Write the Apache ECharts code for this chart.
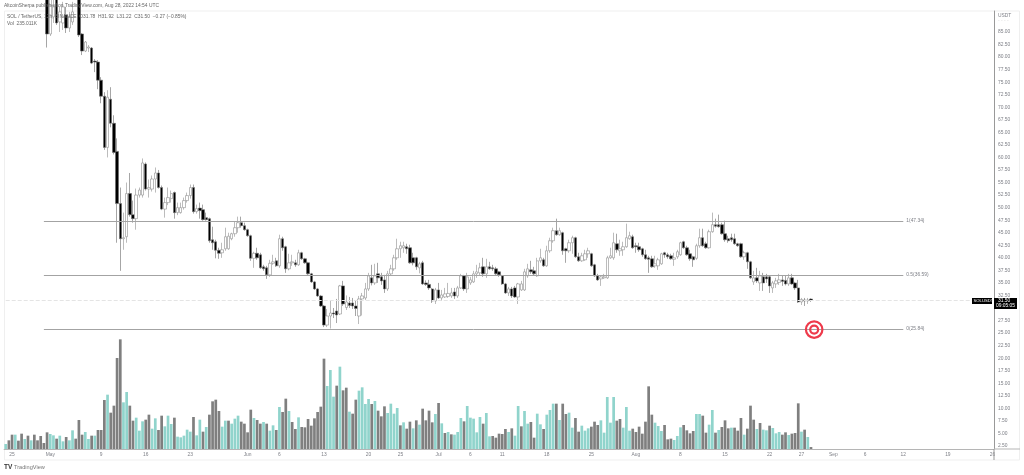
<!DOCTYPE html>
<html>
<head>
<meta charset="utf-8">
<style>html,body{margin:0;padding:0;background:#fff}#c{width:1024px;height:475px;filter:blur(0.35px)}</style>
<script src="https://cdn.jsdelivr.net/npm/echarts@6/dist/echarts.min.js"></script>
</head>
<body>
<div id="c"></div>
<script>
// [open, close, low, high] for each 12h candle, starting 24 Apr 2022
const candles = [
[97,98,96,99],[98,100,97,101],[100,99,98,102],[99,101,98,102],[101,103,100,104],[103,100,99,104],[100,98,97,101],[98,99,96,100],[99,97,96,100],[97,96,94,98],[96,95,93,97],[95,94,92,96],[94,92,91,95],
[92,84.6,81.9,95],[84.6,92,84.2,94],[88,90,86.8,93],[92,86.8,86.4,94],[87,89,85,90],[86.8,90,85.4,91],[88.4,85.8,84.8,90],[85.8,88,85,89],[87,89,86.4,91],[91,96,90,97],[95,84.4,84,96],
[84.6,81.2,80.4,84.8],[81.2,83,81,83.2],[81.8,82,81,82.4],[81.8,78.8,78.6,82],[79.2,79,77,79.6],[79,75.4,73.6,79.4],[75.4,72.2,70.8,76],[72.2,62,61.5,73],[62,72,60,73.4],[71.6,66.8,66,74],[66.8,61,60.6,68.4],
[61.2,50.8,43,63.8],[50.8,43.8,37.4,54],[43.8,44,41.6,49],[44.2,52.8,43,55],[52.8,48.6,48.2,56.9],[48.6,47.8,47,51.4],[47.8,52.5,45.6,53.8],[52.5,53.5,52,54],[52.5,58.9,52,59.8],[58.7,53.7,53.4,59],
[53.7,54,52,55.6],[53.7,55.7,53.2,56.4],[55.7,56.9,53,58],[56.9,54,53.8,57.5],[54,49.7,49.5,54.4],[49.7,51,48,52],[51,52,50.5,54],[51.8,52.8,51,53.4],[53,49,47.8,53.2],[49,50,48.5,51],[49,50,48.8,51],
[50,51.4,49.6,52],[51.4,52.4,51,53],[52.4,54,51.8,54.6],[54,49.2,48.8,54.6],[49.2,49.8,48.8,50.6],[49.9,49.4,47.8,51],[49.6,47.6,47.4,50.6],[48,47.6,47.4,49],[47.8,43.4,43,48],[43.6,43,41.6,46.2],
[43.2,41.5,39.9,43.6],[41.5,40.9,39.8,42],[41,41.6,40,43],[41.8,44.2,41.4,46],[41.8,44.3,41.6,45],[43.8,44.8,43.5,45],[44.8,46,44.2,47.2],[46,47,45,48.2],[47,46.4,46,48.2],[46.4,45.6,45.4,47],
[45.6,44.4,44.2,45.8],[44.4,39.9,39.4,44.6],[39.9,40.9,38,41.2],[40.9,40,39.6,42],[40.6,38,37.8,41],[38.2,37.8,37.4,38.6],[38,36.6,35.8,38.4],[36.6,38.9,36.2,39.6],[38.9,39.2,38.6,40.6],[39.4,38.4,38.2,40],
[38.4,43.8,38,44.6],[43.8,42,41.4,44.2],[42.2,37.8,37,42.4],[37.8,39,37.5,40.8],[39,39.2,38.4,40.6],[39,38.6,38.2,39.6],[38.6,41,38.4,41.6],[41,39.8,39.6,41.2],[39.8,39,38.8,40],[39,36.8,36.6,39.2],
[36.8,35.2,35,37],[35.2,33.8,33.6,35.4],[33.8,32.4,32.2,34],[32.4,30.4,30.2,32.6],[30.4,26.6,26.2,30.6],[26.6,28.4,26.2,29.8],[28.4,29,25.9,31.4],[29,28.8,28,30],[29.4,28.6,27,31.8],[28.8,34.4,28.6,34.6],
[34.4,30.8,30.4,35.4],[30.1,31.2,29.6,32.5],[31,30.5,30,32.2],[31,30.4,29.8,32],[30.4,29.9,28.4,31.4],[28.4,31.8,26.8,32.4],[31.8,32.4,28.5,33],[32,33.8,31.6,35],[33.8,36.4,33.4,37],[36,35,34.5,38.6],
[35,36.4,34.6,38.8],[36.8,36,35,39],[36.2,35.4,34.6,37],[35.6,33.8,33,36.6],[33.8,36.8,33.4,37.4],[36.8,37.8,36.4,38.6],[37.8,40,37.4,40.6],[40,41.8,39.6,43.8],[41.8,42.4,40,43.2],[42,42.4,41,43.2],
[42.2,41.8,40.8,42.8],[42,39,38.8,42.6],[40,39,38.5,41],[40,38.2,37.6,40.2],[38,38.8,36.9,39.2],[39,34.8,34.6,39.4],[35,34.7,34.4,35.5],[34.7,34,33.6,35.6],[33.8,31.4,31,34],[31.4,33.6,30.8,34],
[33.6,32,31.8,35],[32,32.6,31.4,33.6],[32.2,32.8,32,34],[32.3,32.9,32,35],[32.4,33,32,34],[33.2,32.4,31.8,34],[32.4,34,32,34.4],[34,36.4,33.8,36.8],[36.4,33.8,33.4,36.6],[33.8,36.2,33,37],
[35,35.6,34.6,36.2],[35.2,36.8,35,37.4],[36.8,37.2,36,38.6],[37,38,36.4,39],[38.2,36.8,36.2,40],[36.8,38.2,36,39.8],[38.2,37.8,37.6,39.2],[38,37.8,37.4,38.6],[37.8,36.8,36.6,38.2],[37.2,36.6,36.2,37.4],
[36.4,34.8,34.6,36.6],[34.8,33,32.8,35],[33,33.8,32.4,34.2],[33.8,32.4,32,34.2],[34,32.2,32,34.4],[32.2,34.8,30.8,35],[33.6,34.8,33.4,35.4],[33.6,37.2,33.4,37.8],[36.4,37.8,36,38.8],[37.6,37.2,36.8,39.4],
[37.4,36.8,36.4,38.2],[36.4,39.4,36.2,40],[39.4,40,39,41.8],[39.6,38.4,38.2,40],[38.4,41.4,38.2,42.4],[41.4,43.4,41,44],[43.4,45.4,43,46],[45.4,44.6,44.4,47.8],[44.6,45.4,44.4,46],[45,41.4,40.6,45.2],
[41.8,41.4,39,42],[41.4,43,41,43.6],[43,44,40.8,44.4],[44,40.2,40,44.2],[40.2,39.4,39.2,41],[39.4,40.4,39.2,41],[39.6,40.8,39.4,41.6],[40.8,41.4,40,42],[40.8,38.4,38.2,41],[38.6,36.4,36.2,38.8],
[36.4,35.6,35.4,36.8],[35.8,36.2,34.4,36.4],[36,36.2,35.8,36.8],[36,40,35.8,40.4],[40,40.4,39.8,42],[40,43,39.6,45],[42.8,41.6,41,44.8],[41.4,41.8,40.4,43.6],[41.6,42.2,40.4,43.2],[42.2,44,42,46.8],
[43.8,44.4,43.6,45.2],[44.2,42,41.8,44.6],[42.4,42.2,41,43],[42.2,41.6,41.2,43],[41.8,40.6,40.2,42],[40.6,39.8,39.6,41.6],[40,39.7,37,40.4],[39.8,38.2,38,40.4],[38.4,38.8,38,40.4],[38.4,39.6,37.6,40],
[38.8,40.8,38.6,41],[41,40.6,40,41.2],[40.6,40.2,39.8,41],[40.4,39.8,39.6,40.8],[39.7,40,38.4,41],[40.2,41.2,39.8,41.6],[40.6,43,40.4,43.2],[43.2,42,41.8,43.4],[42,40.6,40.4,42.4],[40.8,39.8,39.4,41.6],
[40.2,39.6,38.2,40.4],[39.9,42.4,39.6,42.8],[42.4,44,42,45.8],[44,42.4,42.2,45.8],[42.8,42,41.8,43.2],[42,45.2,41.8,45.6],[45.2,46.6,45,49],[46.6,46.3,46,47.8],[46.6,46.2,46,48.6],[46.6,44.8,44.6,47],
[44.8,43.6,43.2,47.4],[43.8,43.4,43,44.4],[44,43.6,43.2,44.8],[43.8,42.8,42.6,44.8],[42.8,42.4,42.2,43],[42.8,40.2,40,43],[40.2,41,39.6,41.4],[41,39.2,37.8,41.2],[39.2,36,35.8,39.4],[35.2,36,34.6,37.4],
[36,35.4,35,38],[35,36.4,33.4,37.4],[36.2,35,33.4,37],[36.2,35.8,35,36.8],[36.2,34.4,33,36.4],[34,35,33,35.4],[34.8,35.4,34,36],[35.1,35.6,34.6,36.8],[35.6,35.3,34.4,36.4],[35.5,34.8,34.5,36.4],
[34.8,36,34.4,36.8],[36,34.8,34.6,36.8],[35,34,33.6,35.2],[34,31.2,31,35.6],[31.2,31.7,30.6,32],[31.6,31.4,30.4,32],[31.4,31.6,30.8,32],[31.78,31.5,31.22,31.92]
];
// 12h volume in millions of SOL
const volumes = [
0.60,1.04,1.72,1.72,1.00,1.84,1.20,1.60,1.04,1.72,1.04,1.56,0.72,2.00,1.80,1.64,1.24,1.60,0.92,1.44,
1.04,2.24,1.24,3.48,1.72,2.04,1.20,1.60,1.60,2.28,2.28,5.88,6.52,4.36,5.20,10.92,13.16,5.60,6.84,5.20,
3.40,3.76,2.20,3.32,3.52,4.12,2.44,3.68,2.28,4.00,2.72,4.00,3.00,3.76,1.48,1.40,1.60,2.32,2.08,3.84,
1.64,3.52,2.08,2.64,4.12,5.72,5.92,4.56,2.68,3.40,3.40,3.04,3.64,4.00,3.28,3.04,2.00,4.72,3.72,3.48,
3.04,3.24,3.04,2.20,2.84,2.28,5.04,4.44,6.04,4.56,3.24,2.40,3.80,2.64,2.60,3.60,2.80,3.68,4.44,5.08,
10.84,7.56,9.48,6.28,7.60,9.88,7.04,7.36,4.48,4.24,5.92,7.00,7.40,5.40,6.00,5.40,5.76,4.60,3.92,5.12,
4.32,5.44,4.24,4.92,2.84,3.20,2.44,3.28,2.48,3.44,2.92,4.84,3.44,4.60,3.20,4.20,5.52,3.08,1.92,2.04,
1.76,1.72,2.04,3.72,3.32,5.16,3.76,3.64,2.00,3.84,3.04,4.32,1.52,1.56,1.36,1.84,1.80,2.40,2.04,2.48,
1.60,5.16,2.72,4.56,3.04,3.24,1.36,4.24,2.96,2.40,4.12,4.68,5.44,5.44,3.48,5.44,4.20,4.36,2.56,3.72,
2.08,2.80,2.20,2.48,2.68,3.28,2.88,3.44,1.96,6.24,3.16,6.24,3.40,3.60,2.56,5.04,2.20,2.44,2.04,2.68,
1.84,3.28,7.52,4.12,3.16,2.76,2.16,2.88,1.16,1.24,1.08,1.56,2.60,2.88,2.24,1.88,2.16,4.20,4.20,4.00,
1.96,2.92,4.68,1.96,2.28,2.64,3.44,2.48,2.56,2.56,2.20,3.72,1.72,2.44,5.20,3.52,2.40,3.12,2.32,2.24,
2.80,2.52,1.88,2.04,1.72,2.00,1.68,1.84,1.92,5.48,2.08,2.32,1.44,0.235
];
// U = rising bar, D = falling bar, one letter per volume
const volumeDirs = "UDDUDDUDUDDDDDUUDUUDUUDDDUUDUDDDUDDDDUUDDUUUDDUUDDUUUDUUUUUDUUDUDDDDUUDUUUDDDDUDDUDUUDUDDUDDUDDDDDDDDUUUDUDDUDDUUUUDUDDDUUUUDUDDUDUDDDDUDUDUDUUUDUUUUUDUUDDDDDUDUUDUUDDUUDUUUDUDDUUDDUUUDDDUUUUUDDUUUDDDDDDDUUUDDDUUUDDDDUUDDUUDUDDDUDDDUDDDUDUUDUUUDDUDDDUDUD";
const tickDates = ["04-25","05-01","05-09","05-16","05-23","06-01","06-06","06-13","06-20","06-25","07-01","07-06","07-11","07-18","07-25","08-01","08-08","08-15","08-22","08-27","09-01","09-06","09-12","09-19","09-26"];
const tickLabels = ["25","May","9","16","23","Jun","6","13","20","25","Jul","6","11","18","25","Aug","8","15","22","27","Sep","6","12","19","26"];
const priceTicks = [85,82.5,80,77.5,75,72.5,70,67.5,65,62.5,60,57.5,55,52.5,50,47.5,45,42.5,40,37.5,35,32.5,30,27.5,25,22.5,20,17.5,15,12.5,10,7.5,5,2.5];
const fibLevels = [47.34,36.59,25.84];
const fibLabels = ["1(47.34)","0.5(36.59)","0(25.84)"];
const lastPrice = 31.50;
const targetMark = [254,25.7];

const categories = [];
for (let i=0;i<311;i++){
  const d = new Date(Date.UTC(2022,3,24)+i*12*3600*1000);
  categories.push(d.toISOString().slice(5,13).replace('T',' '));
}
const labelOf = {};
tickDates.forEach((d,k)=>{labelOf[d+' 00']=tickLabels[k];});

const FONT = '"Liberation Sans",Arial,sans-serif';
const GRAY = '#7d7f86';
const chart = echarts.init(document.getElementById('c'),null,{renderer:'canvas'});
const txt = (x,y,t,c,extra)=>({type:'text',z:50,silent:true,style:Object.assign({x,y,text:t,fill:c||GRAY,font:'4.9px '+FONT,textVerticalAlign:'middle'},extra||{})});
chart.setOption({
  animation:false,
  backgroundColor:'#fff',
  grid:{left:4.1,top:11,width:989.9,height:438,containLabel:false},
  xAxis:{type:'category',data:categories,boundaryGap:true,
    axisLine:{show:true,lineStyle:{color:'#b5b5b5',width:1}},
    axisTick:{show:false},splitLine:{show:false},
    axisLabel:{interval:(i,v)=>labelOf[v]!==undefined,formatter:v=>labelOf[v]||'',fontSize:4.9,color:GRAY,fontFamily:FONT,margin:3,hideOverlap:false}},
  yAxis:[
    {type:'value',position:'right',min:1.9,max:89.18,splitLine:{show:false},
     axisLine:{show:true,lineStyle:{color:'#999',width:1}},
     axisTick:{show:false,customValues:priceTicks},
     axisLabel:{customValues:priceTicks,formatter:v=>v.toFixed(2),fontSize:4.9,color:GRAY,fontFamily:FONT,margin:4}},
    {type:'value',show:false,min:0,max:52.56,splitLine:{show:false}}
  ],
  series:[
    {name:'Vol',type:'bar',yAxisIndex:1,barWidth:2.7,z:1,
     data:volumes.map((v,i)=>({value:v,itemStyle:{color:volumeDirs[i]==='U'?'#90d4cc':'#7f7f7f'}}))},
    {name:'SOLUSDT',type:'candlestick',yAxisIndex:0,barWidth:2.9,z:3,clip:true,data:candles,
     itemStyle:{color:'#fff',color0:'#000',borderColor:'#8f8f8f',borderColor0:'#6a6a6a',borderWidth:0.6},
     markLine:{silent:true,symbol:'none',animation:false,
       lineStyle:{color:'#a3a3a3',width:1,type:'solid'},
       label:{show:true,position:'end',fontSize:4.9,color:GRAY,fontFamily:FONT,distance:3},
       data:[
         ...fibLevels.map((p,k)=>[{coord:[12,p],label:{formatter:fibLabels[k]}},{coord:[282,p]}]),
         [{coord:[0,lastPrice],lineStyle:{color:'#e4e4e4',type:'dashed',width:1},label:{show:false}},{coord:[310,lastPrice]}]
       ]}},
    {type:'scatter',yAxisIndex:0,z:6,symbol:'circle',symbolSize:16.5,clip:false,data:[targetMark],
     itemStyle:{color:'rgba(0,0,0,0)',borderColor:'#ee3a4b',borderWidth:2.2,opacity:1}},
    {type:'scatter',yAxisIndex:0,z:6,symbol:'circle',symbolSize:8,clip:false,data:[targetMark],
     itemStyle:{color:'rgba(0,0,0,0)',borderColor:'#ee3a4b',borderWidth:2.2,opacity:1}}
  ],
  graphic:{elements:[
    {type:'rect',z:0,silent:true,shape:{x:4.5,y:11,width:1015,height:449},style:{fill:'none',stroke:'#efefef',lineWidth:1}},
    {type:'line',z:1,silent:true,shape:{x1:994,y1:449,x2:994,y2:460},style:{stroke:'#999',lineWidth:1}},
    {type:'line',z:1,silent:true,shape:{x1:994,y1:449,x2:1020,y2:449},style:{stroke:'#b5b5b5',lineWidth:1}},
    txt(4,6,'AltcoinSherpa published on TradingView.com, Aug 28, 2022 14:54 UTC','#666'),
    txt(7,17,'SOL / TetherUS, 12h, BINANCE  O31.78  H31.92  L31.22  C31.50  \u22120.27 (\u22120.85%)','#666'),
    txt(7,24,'Vol  235.011K','#666'),
    txt(998,16,'USDT'),
    txt(998,21,'- - - -','#dddddd'),
    {type:'rect',z:60,silent:true,shape:{x:972,y:298,width:20,height:6},style:{fill:'#000'}},
    {type:'rect',z:60,silent:true,shape:{x:994,y:298,width:23,height:11},style:{fill:'#000'}},
    Object.assign(txt(973.5,301,'SOLUSDT','#fff',{font:'4.2px '+FONT}),{z:61}),
    Object.assign(txt(998,301,'31.50','#fff'),{z:61}),
    Object.assign(txt(996,306,'09:05:05','#fff'),{z:61}),
    txt(4,467,'TV','#333',{font:'bold 6.5px '+FONT}),
    txt(14,467,'TradingView','#777',{font:'5.6px '+FONT})
  ]}
});
</script>
</body>
</html>
